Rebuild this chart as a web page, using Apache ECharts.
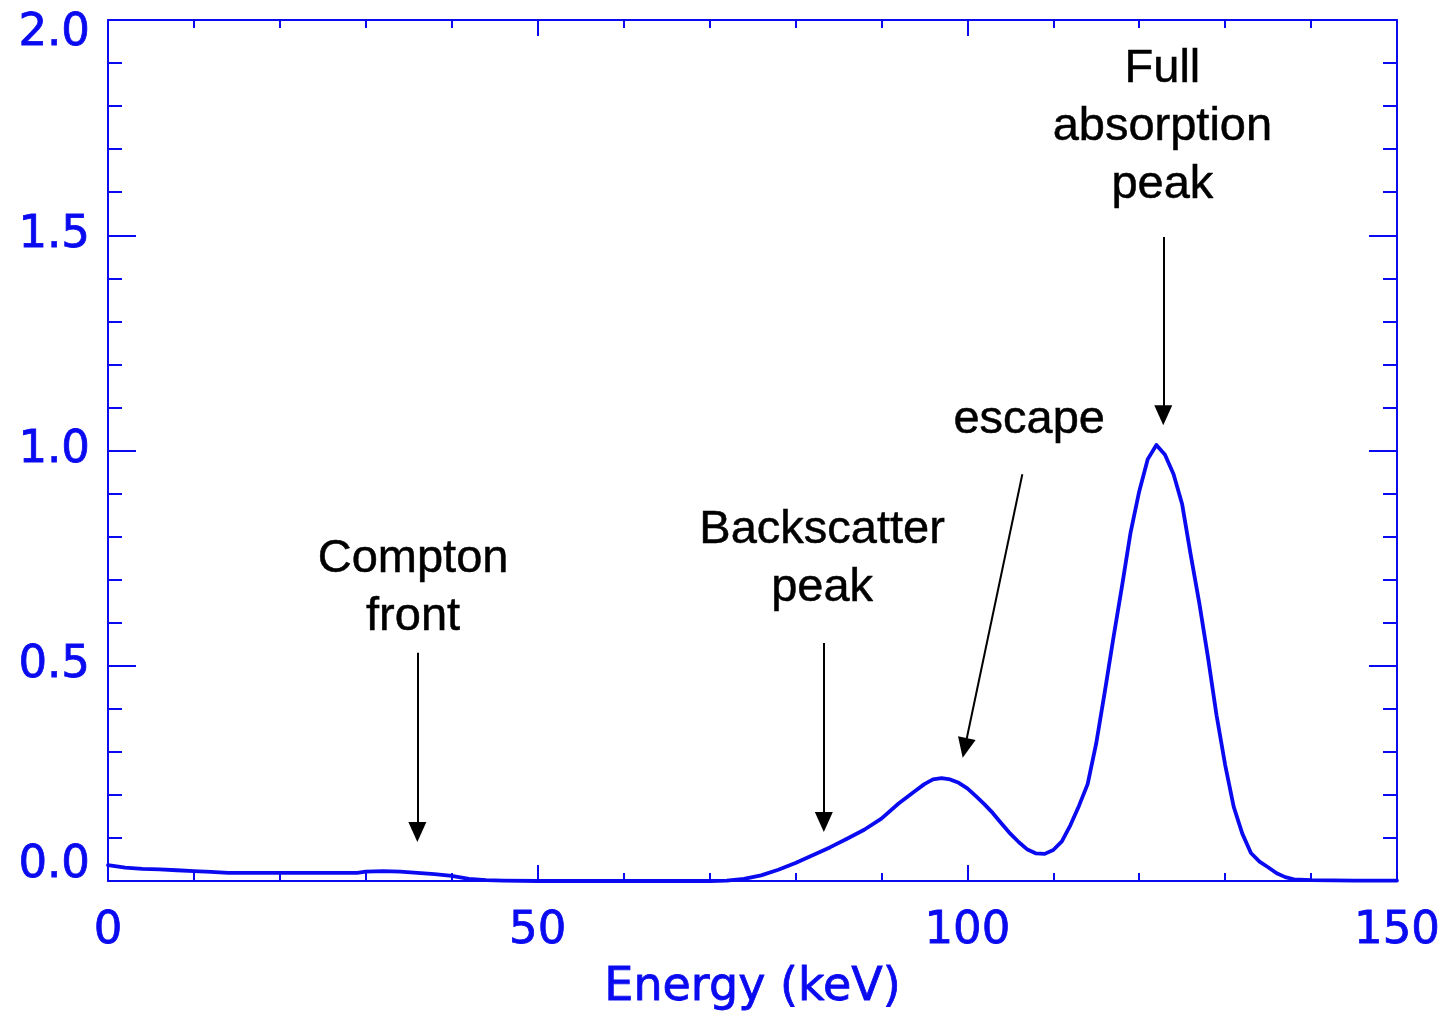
<!DOCTYPE html>
<html>
<head>
<meta charset="utf-8">
<script src="https://cdn.jsdelivr.net/npm/echarts@6/dist/echarts.min.js"></script>
<style>html,body{margin:0;padding:0;background:#fff}#c{width:1446px;height:1014px}</style>
</head>
<body>
<div id="c"></div>
<script>
// Energy (keV)
const energy = [0,2,4,6,8,10,12,14,16,20,25,29,30,32,34,36,38,40,42,44,46,50,55,60,65,70,72,74,76,78,80,82,84,86,88,90,92,93,94,95,96,97,98,99,100,101,102,103,104,105,106,107,108,109,110,111,112,113,114,115,116,117,118,119,120,121,122,123,124,125,126,127,128,129,130,131,132,133,134,135,136,137,138,140,145,150];
// Counts (normalised)
const counts = [0.037,0.031,0.028,0.027,0.025,0.023,0.021,0.019,0.019,0.019,0.019,0.019,0.022,0.023,0.022,0.019,0.016,0.012,0.005,0.002,0.001,0.0,0.0,0.0,0.0,0.0,0.001,0.005,0.013,0.026,0.042,0.060,0.078,0.098,0.119,0.145,0.180,0.195,0.210,0.225,0.236,0.239,0.236,0.228,0.215,0.197,0.178,0.157,0.133,0.110,0.090,0.073,0.064,0.063,0.072,0.092,0.130,0.175,0.225,0.320,0.440,0.565,0.685,0.810,0.905,0.980,1.013,0.990,0.945,0.875,0.757,0.645,0.520,0.385,0.270,0.172,0.110,0.065,0.045,0.032,0.018,0.009,0.004,0.002,0.001,0.001];

const xTicks = [0,50,100,150];
const yTicks = [0.0,0.5,1.0,1.5,2.0];

// annotations: text, label position [x,y], arrow start, arrow end
const annTexts = ['Compton\nfront','Backscatter\npeak','escape','Full\nabsorption\npeak'];
const annTextPos = [[35.5,0.68],[83.1,0.748],[107.2,1.071],[122.7,1.751]];
const annArrowFrom = [[36.0,0.53],[83.3,0.553],[106.4,0.945],[122.8,1.496]];
const annArrowTo = [[36.0,0.114],[83.3,0.137],[99.7,0.309],[122.8,1.082]];

const BLUE = '#0a0af0';
const chart = echarts.init(document.getElementById('c'), null, {renderer:'canvas'});
const axFont = 'DejaVu Sans';

const xCommon = {
  type:'value', min:0, max:150, interval:50,
  axisLine:{show:true, onZero:false, lineStyle:{color:BLUE, width:2}},
  axisTick:{show:true, inside:true, length:16, lineStyle:{color:BLUE, width:2}},
  minorTick:{show:true, splitNumber:5, length:8, lineStyle:{color:BLUE, width:2}},
  splitLine:{show:false}
};
const yCommon = {
  type:'value', min:0, max:2, interval:0.5,
  axisLine:{show:true, onZero:false, lineStyle:{color:BLUE, width:2}},
  axisTick:{show:true, inside:true, length:28, lineStyle:{color:BLUE, width:2}},
  minorTick:{show:true, splitNumber:5, length:14, lineStyle:{color:BLUE, width:2}},
  splitLine:{show:false}
};

const lblStyle = {fontFamily:axFont, fontSize:45, color:BLUE, textBorderColor:BLUE, textBorderWidth:0.8};

const option = {
  backgroundColor:'#fff',
  animation:false,
  grid:{left:108, right:49, top:20, bottom:133, containLabel:false, outerBoundsMode:'none'},
  xAxis:[
    Object.assign({}, xCommon, {
      position:'bottom',
      axisLabel:Object.assign({show:true, margin:28,
        formatter:(v)=> xTicks.includes(v) ? String(v) : ''}, lblStyle),
      name:'Energy (keV)', nameLocation:'middle', nameGap:84,
      nameTextStyle:{fontFamily:axFont, fontSize:46, color:BLUE, textBorderColor:BLUE, textBorderWidth:0.8}
    }),
    Object.assign({}, xCommon, {position:'top', axisLabel:{show:false}})
  ],
  yAxis:[
    Object.assign({}, yCommon, {
      position:'left',
      axisLabel:{show:true, margin:18, fontFamily:axFont, fontSize:45, color:BLUE,
        formatter:(v)=>{
          const s = v.toFixed(1);
          if (v === yTicks[0]) return '{b|'+s+'}';
          if (v === yTicks[yTicks.length-1]) return '{t|'+s+'}';
          return '{n|'+s+'}';
        },
        rich:{
          b:Object.assign({padding:[0,0,32,0]}, lblStyle),
          t:Object.assign({padding:[26,0,0,0]}, lblStyle),
          n:Object.assign({}, lblStyle)
        }
      }
    }),
    Object.assign({}, yCommon, {position:'right', axisLabel:{show:false}})
  ],
  series:[
    {
      type:'line', xAxisIndex:0, yAxisIndex:0,
      data: energy.map((e,i)=>[e, counts[i]]),
      showSymbol:false, smooth:false,
      lineStyle:{color:BLUE, width:3.8, join:'round', cap:'round'},
      markLine:{
        silent:true, symbol:['none','triangle'], symbolSize:[18,20],
        label:{show:false},
        lineStyle:{color:'#000', width:2, type:'solid'},
        data: annArrowFrom.map((p,i)=>[{coord:p},{coord:annArrowTo[i]}])
      }
    }
  ]
};
chart.setOption(option);

// annotation texts placed via the chart's own coordinate conversion
chart.setOption({
  graphic: annTexts.map((t,i)=>{
    const px = chart.convertToPixel({xAxisIndex:0, yAxisIndex:0}, annTextPos[i]);
    return {
      type:'text', x:px[0], y:px[1], silent:true,
      style:{text:t, fill:'#000000', stroke:'#000000', lineWidth:0.5,
        font:'47px "Liberation Sans"', lineHeight:58, align:'center', verticalAlign:'middle'}
    };
  })
});
</script>
</body>
</html>
